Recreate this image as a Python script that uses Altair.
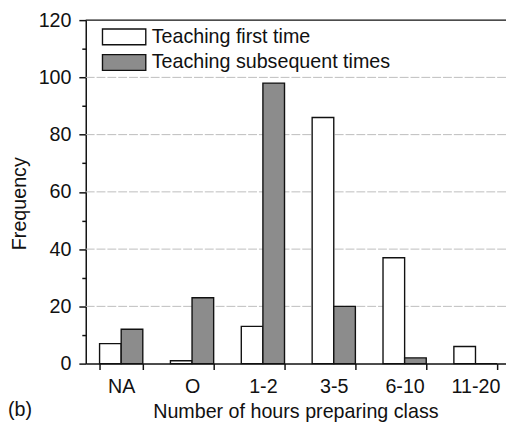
import altair as alt
import pandas as pd

categories = ["NA", "O", "1-2", "3-5", "6-10", "11-20"]
first_time = [7, 1, 13, 86, 37, 6]
subsequent = [12, 23, 98, 20, 2, 0]
series_names = ["Teaching first time", "Teaching subsequent times"]
y_ticks = [0, 20, 40, 60, 80, 100, 120]
y_minor = [10, 30, 50, 70, 90, 110]
grid_vals = [20, 40, 60, 80, 100]

rows = []
for c, a, b in zip(categories, first_time, subsequent):
    rows.append({"cat": c, "series": series_names[0], "value": a})
    rows.append({"cat": c, "series": series_names[1], "value": b})
df = pd.DataFrame(rows)

W, H = 427, 349
FONT = "Liberation Sans"
FS = 20
TXT = "#111111"

yscale = alt.Scale(domain=[0, 120], nice=False)
xscale = alt.Scale(domain=categories, range=[0, 432], paddingInner=0.39, paddingOuter=0.195)

bars = alt.Chart(df).mark_bar(stroke="#111111", strokeWidth=1.4).encode(
    x=alt.X("cat:N", scale=xscale, sort=categories,
            axis=alt.Axis(title="Number of hours preparing class", labelAngle=0,
                          tickBand="extent", tickSize=6, tickWidth=1.5, tickColor="#111",
                          domainColor="#111", domainWidth=1.5, labelPadding=7,
                          labelFontSize=FS, titleFontSize=FS, titlePadding=6, titleX=213,
                          labelFont=FONT, titleFont=FONT, labelColor=TXT, titleColor=TXT,
                          titleFontWeight="normal", grid=False)),
    xOffset=alt.XOffset("series:N", sort=series_names),
    y=alt.Y("value:Q", scale=yscale,
            axis=alt.Axis(title="Frequency", values=y_ticks, tickSize=7, tickWidth=1.5,
                          tickColor="#111", domainColor="#111", domainWidth=1.5,
                          labelPadding=8, labelFontSize=FS, titleFontSize=FS,
                          titlePadding=9, titleY=186, labelFont=FONT, titleFont=FONT,
                          labelColor=TXT, titleColor=TXT, titleFontWeight="normal",
                          grid=False, orient="left")),
    fill=alt.Fill("series:N", sort=series_names,
                  scale=alt.Scale(domain=series_names, range=["#ffffff", "#8c8c8c"]),
                  legend=alt.Legend(title=None, orient="none", legendX=29, legendY=7,
                                    symbolType="M-2.75,-1H2.75V1H-2.75Z", symbolSize=256,
                                    symbolStrokeColor="#111", symbolStrokeWidth=1.4,
                                    symbolOpacity=1, labelFontSize=FS, labelFont=FONT,
                                    labelColor=TXT, labelOffset=18, rowPadding=4,
                                    labelLimit=400, padding=0)),
)

grid_df = pd.DataFrame({"g": grid_vals})
grid = alt.Chart(grid_df).mark_rule(color="#bdbdbd", strokeWidth=1, strokeDash=[9, 2]).encode(
    y=alt.Y("g:Q", scale=yscale, axis=None)
)

minor_df = pd.DataFrame({"m": y_minor})
minor = alt.Chart(minor_df).mark_point(opacity=0).encode(
    y=alt.Y("m:Q", scale=yscale,
            axis=alt.Axis(values=y_minor, labels=False, tickSize=4, tickWidth=1.5,
                          tickColor="#111", domain=False, grid=False, title=None,
                          orient="left"))
)

top_df = pd.DataFrame({"t": [120]})
top = alt.Chart(top_df).mark_rule(color="#111", strokeWidth=1.5).encode(
    y=alt.Y("t:Q", scale=yscale, axis=None)
)

label_df = pd.DataFrame({"lab": ["(b)"]})
label = alt.Chart(label_df).mark_text(
    align="left", baseline="middle", fontSize=FS, font=FONT, color=TXT
).encode(text="lab:N", x=alt.value(-79), y=alt.value(H + 47))

chart = alt.layer(grid, bars, minor, top, label).resolve_axis(y="independent").properties(
    width=W, height=H,
    padding={"left": 79, "top": 9, "right": 0, "bottom": 56},
    autosize=alt.AutoSizeParams(type="none"),
).configure_view(stroke=None)

chart.save("out.html", embed_options={"renderer": "svg", "actions": False})
